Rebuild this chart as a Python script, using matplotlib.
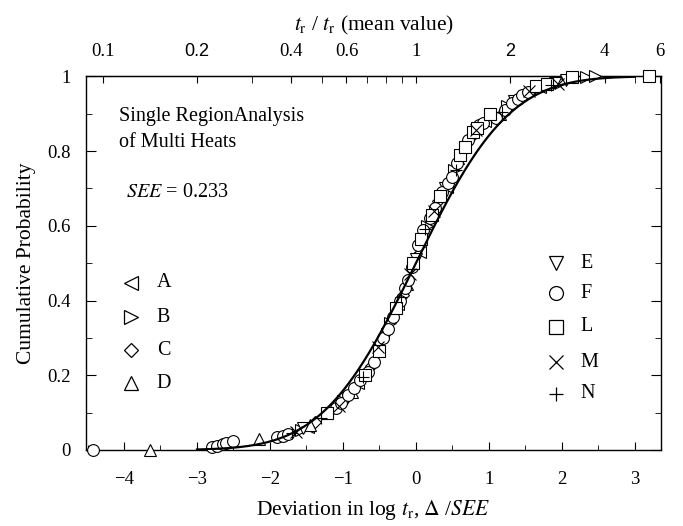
import math

import matplotlib
matplotlib.use("Agg")
import matplotlib.pyplot as plt
import numpy as np

SEE = 0.233

# series: deviation (x) and cumulative probability (y)
a_x = [-1.48, -0.80, -0.25, 0.05, 0.42, 0.95, 1.70]
a_y = [0.062, 0.178, 0.390, 0.530, 0.705, 0.880, 0.972]

b_x = [-1.58, -1.00, -0.35, 0.15, 0.52, 1.25, 2.00, 2.33, 2.45]
b_y = [0.053, 0.130, 0.340, 0.600, 0.750, 0.920, 0.986, 0.999, 1.000]

c_x = [-1.38, -1.20, -0.62, -0.18, 0.30, 0.75, 1.60]
c_y = [0.075, 0.100, 0.225, 0.415, 0.665, 0.838, 0.965]

d_x = [-3.65, -2.15, -1.45, -0.88, -0.12, 0.58, 1.15]
d_y = [0.000, 0.030, 0.067, 0.155, 0.445, 0.780, 0.900]

e_x = [-1.55, -0.95, -0.40, 0.00, 0.40, 1.35, 1.90, 2.05]
e_y = [0.058, 0.140, 0.310, 0.510, 0.700, 0.935, 0.982, 0.990]

f_x = [-4.42, -2.80, -2.72, -2.65, -2.60, -2.50, -1.90, -1.82, -1.75, -1.10,
       -1.02, -0.93, -0.85, -0.76, -0.66, -0.58, -0.45, -0.38, -0.31, -0.22,
       -0.15, -0.11, -0.05, 0.03, 0.10, 0.19, 0.26, 0.36, 0.44, 0.49,
       0.56, 0.72, 0.87, 0.92, 1.10, 1.22, 1.31, 1.40, 1.46, 1.53]
f_y = [0.000, 0.008, 0.012, 0.016, 0.020, 0.024, 0.034, 0.038, 0.042, 0.112,
       0.125, 0.147, 0.165, 0.187, 0.210, 0.235, 0.300, 0.325, 0.356, 0.400,
       0.433, 0.455, 0.490, 0.548, 0.588, 0.620, 0.647, 0.690, 0.715, 0.730,
       0.767, 0.830, 0.869, 0.876, 0.888, 0.910, 0.928, 0.940, 0.949, 0.957]

l_x = [-1.22, -0.70, -0.50, -0.27, -0.04, 0.07, 0.22, 0.33, 0.60, 0.67,
       0.78, 0.84, 1.02, 1.65, 1.79, 2.14, 3.19]
l_y = [0.098, 0.200, 0.265, 0.380, 0.500, 0.565, 0.630, 0.680, 0.790, 0.810,
       0.850, 0.862, 0.900, 0.975, 0.980, 0.997, 1.000]

m_x = [-1.65, -1.05, -0.52, -0.08, 0.25, 0.82, 1.55, 1.95]
m_y = [0.048, 0.118, 0.275, 0.470, 0.640, 0.855, 0.960, 0.978]

n_x = [-1.70, -1.30, -0.72, -0.20, 0.12, 0.55, 1.18, 1.85]
n_y = [0.045, 0.085, 0.195, 0.410, 0.590, 0.750, 0.905, 0.977]

top_ticks = [0.1, 0.2, 0.4, 0.6, 1, 2, 4, 6]
top_labels = ["0.1", "0.2", "0.4", "0.6", "1", "2", "4", "6"]
top_minor = [0.3, 0.5, 0.7, 0.8, 0.9, 3, 5]

plt.rcParams["font.family"] = ["Liberation Serif", "DejaVu Serif"]
plt.rcParams["mathtext.fontset"] = "stix"
plt.rcParams["font.size"] = 13.5

fig = plt.figure(figsize=(6.83, 5.26), dpi=100)
ax = fig.add_axes([0.126, 0.1445, 0.842, 0.7105])

# normal distribution curve
xc = np.linspace(-3, 3, 400)
yc = np.array([0.5 * (1 + math.erf(v / math.sqrt(2))) for v in xc])
ax.plot(xc, yc, color="black", lw=1.6, zorder=4)

series = [
    (a_x, a_y, "<"), (b_x, b_y, ">"), (c_x, c_y, "D"), (d_x, d_y, "^"),
    (e_x, e_y, "v"), (f_x, f_y, "o"), (l_x, l_y, "s"), (m_x, m_y, "x"),
    (n_x, n_y, "+"),
]
for sx, sy, mk in series:
    ms = 6.5 if mk == "D" else 8.5
    ax.plot(sx, sy, ls="none", marker=mk, ms=ms, mfc="white", mec="black",
            mew=0.8, clip_on=False, zorder=3)

# legend drawn by hand as in the original
left_keys = [("<", "A", 0.447), (">", "B", 0.355), ("D", "C", 0.267), ("^", "D", 0.178)]
right_keys = [("v", "E", 0.50), ("o", "F", 0.42), ("s", "L", 0.33), ("x", "M", 0.235), ("+", "N", 0.15)]
for mk, lab, yy in left_keys:
    ax.plot(-3.9, yy, marker=mk, ms=7.5 if mk == "D" else 10, mfc="white",
            mec="black", mew=0.9, ls="none")
    ax.text(-3.55, yy, lab, ha="left", va="center", fontsize=14.5)
for mk, lab, yy in right_keys:
    ax.plot(1.92, yy, marker=mk, ms=10, mfc="white", mec="black",
            mew=0.9, ls="none")
    ax.text(2.25, yy, lab, ha="left", va="center", fontsize=14.5)

ax.text(-4.07, 0.893, "Single RegionAnalysis", ha="left", va="center", fontsize=14.5)
ax.text(-4.07, 0.822, "of Multi Heats", ha="left", va="center", fontsize=14.5)
ax.text(-3.97, 0.69, r"$SEE$ = 0.233", ha="left", va="center", fontsize=14.5)

ax.set_xlim(-4.52, 3.36)
ax.set_ylim(0, 1)
ax.set_xticks([-4, -3, -2, -1, 0, 1, 2, 3])
ax.set_xticks(np.arange(-4.5, 3.5, 0.5), minor=True)
ax.set_yticks([0, 0.2, 0.4, 0.6, 0.8, 1])
ax.set_yticklabels(["0", "0.2", "0.4", "0.6", "0.8", "1"])
ax.set_yticks([0.1, 0.3, 0.5, 0.7, 0.9], minor=True)
ax.tick_params(which="both", direction="in", right=True, top=False, labelsize=13.5)
ax.tick_params(axis="x", which="major", length=6, pad=15)
ax.tick_params(axis="x", which="minor", length=3.5)
ax.tick_params(axis="y", which="major", length=7, pad=11)
ax.tick_params(axis="y", which="minor", length=4)
for sp in ax.spines.values():
    sp.set_linewidth(1.0)

ax.set_xlabel(r"Deviation in log $t_{\mathrm{r}}$, $\Delta$ /$SEE$", fontsize=15.5, labelpad=7)
ax.set_ylabel("Cumulative Probability", fontsize=15.5, labelpad=8)

# top axis: ratio to the mean rupture time
sec = ax.secondary_xaxis(
    "top",
    functions=(lambda x: 10 ** (np.asarray(x) * SEE),
               lambda r: np.log10(np.clip(r, 1e-6, None)) / SEE),
)
sec.set_xticks(top_ticks, top_labels)
sec.set_xticks(top_minor, minor=True)
sec.tick_params(which="both", direction="in", length=5, labelsize=13.5, pad=12)
for t in sec.get_xticklabels():
    if t.get_text() in ("0.2", "2"):
        t.set_fontfamily("Liberation Sans")
        t.set_fontsize(13)
sec.set_xlabel(r"$t_{\mathrm{r}}$ / $t_{\mathrm{r}}$ (mean value)", fontsize=15.5, labelpad=9)

fig.savefig("out.png", dpi=100)
